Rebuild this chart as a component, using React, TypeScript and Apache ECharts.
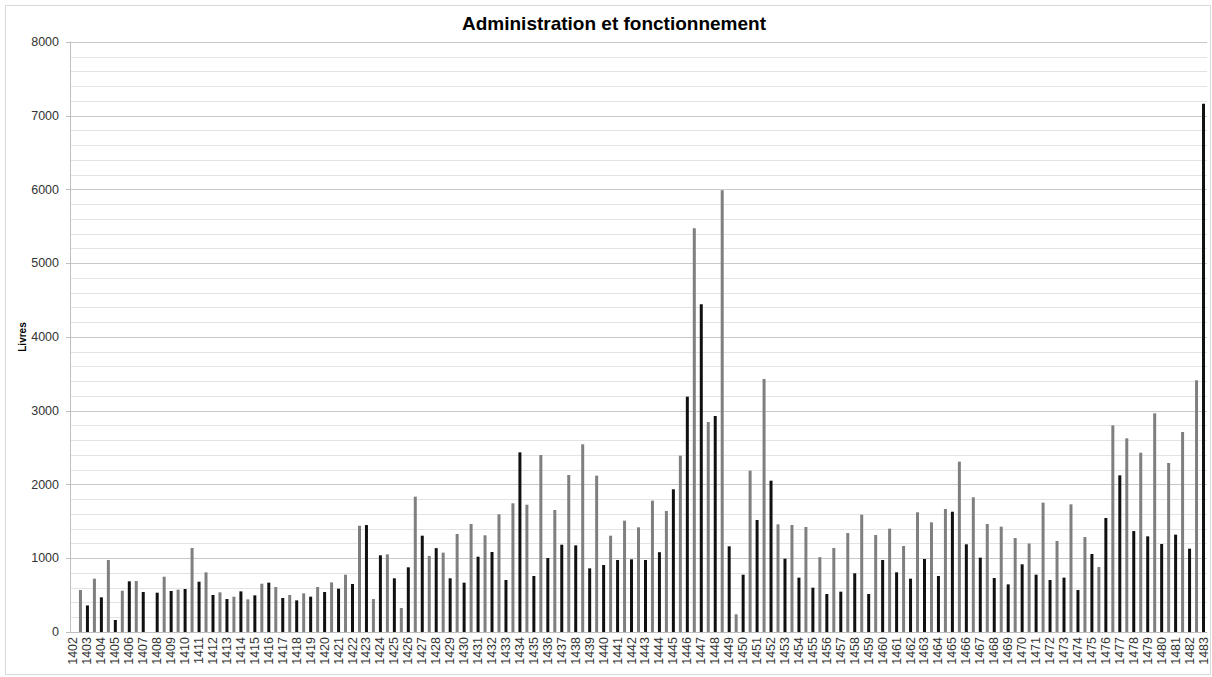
import React, { useEffect, useRef } from "react";
import * as echarts from "echarts";

// Years shown on the category axis (one black bar per year)
const years: string[] = [];
for (let y = 1402; y <= 1483; y++) years.push(String(y));

// Black bars: value at each year (1402 .. 1483)
const blackValues: (number | null)[] = [
  null, 360, 470, 163, 687, 542, 533, 556, 583, 682,
  502, 447, 551, 497, 669, 461, 429, 479, 542, 587,
  651, 1450, 1040, 728, 877, 1306, 1137, 728, 669, 1021,
  1085, 705, 2436, 759, 1003, 1184, 1175, 863, 908, 976,
  985, 976, 1082, 1935, 3191, 4443, 2929, 1162, 777, 1519,
  2052, 994, 737, 601, 515, 547, 796, 515, 976, 809,
  723, 990, 759, 1631, 1189, 1008, 732, 646, 918, 777,
  705, 737, 569, 1058, 1546, 2124, 1369, 1297, 1193, 1320,
  1130, 7164,
];

// Grey bars: value between consecutive years (after 1402 .. after 1482)
const greyValues: (number | null)[] = [
  569, 723, 976, 560, 691, null, 750, 574, 1139, 809,
  538, 479, 443, 655, 610, 502, 524, 610, 673, 777,
  1441, 447, 1053, 325, 1835, 1031, 1076, 1329, 1464, 1311,
  1596, 1745, 1726, 2400, 1654, 2129, 2545, 2120, 1306, 1510,
  1419, 1781, 1641, 2391, 5474, 2847, 5989, 240, 2188, 3431,
  1460, 1451, 1424, 1015, 1139, 1342, 1591, 1315, 1401, 1166,
  1623, 1487, 1668, 2310, 1826, 1464, 1428, 1275, 1200, 1754,
  1234, 1731, 1288, 881, 2802, 2626, 2431, 2965, 2292, 2712,
  3413,
];

const yTicks = [0, 1000, 2000, 3000, 4000, 5000, 6000, 7000, 8000];

export default function App() {
  const ref = useRef<HTMLDivElement>(null);

  useEffect(() => {
    document.body.style.margin = "0";
    if (!ref.current) return;
    const chart = echarts.init(ref.current, undefined, { renderer: "svg" });

    // interleave: year slot, between-years slot, year slot, ...
    const categories: string[] = [];
    const blackData: (number | null)[] = [];
    const greyData: (number | null)[] = [];
    years.forEach((yr, k) => {
      categories.push(yr);
      blackData.push(blackValues[k]);
      greyData.push(null);
      if (k < years.length - 1) {
        categories.push(yr + "-" + years[k + 1]);
        blackData.push(null);
        greyData.push(greyValues[k]);
      }
    });

    const font = "'Liberation Sans', Arial, sans-serif";

    chart.setOption({
      animation: false,
      backgroundColor: "#ffffff",
      title: {
        text: "Administration et fonctionnement",
        left: 609,
        top: 9,
        textAlign: "center",
        textStyle: { fontFamily: font, fontSize: 19, fontWeight: "bold", color: "#000" },
      },
      graphic: [
        {
          type: "rect",
          shape: { x: 5.5, y: 5.5, width: 1205, height: 669 },
          style: { fill: "none", stroke: "#d9d9d9", lineWidth: 1 },
          silent: true,
        },
      ],
      grid: { left: 70, right: 5, top: 42, bottom: 45, containLabel: false },
      xAxis: {
        type: "category",
        data: categories,
        boundaryGap: true,
        axisLine: { show: true, lineStyle: { color: "#bfbfbf", width: 1 } },
        axisTick: { show: false },
        axisLabel: {
          interval: (idx: number) => idx % 2 === 0,
          rotate: 90,
          margin: 5,
          fontFamily: font,
          fontSize: 12.5,
          color: "#333",
        },
        splitLine: { show: false },
      },
      yAxis: {
        type: "value",
        min: 0,
        max: yTicks[yTicks.length - 1],
        interval: 1000,
        name: "Livres",
        nameLocation: "middle",
        nameRotate: 90,
        nameGap: 43,
        nameMoveOverlap: false,
        nameTextStyle: { fontFamily: font, fontSize: 10, fontWeight: "bold", color: "#000" },
        axisLine: { show: true, lineStyle: { color: "#bfbfbf" } },
        axisTick: { show: true, length: 4, lineStyle: { color: "#bfbfbf" } },
        axisLabel: {
          fontFamily: font,
          fontSize: 12.5,
          color: "#333",
          margin: 11,
          formatter: (v: number) => String(v),
        },
        splitLine: { show: true, lineStyle: { color: "#c8c8c8", width: 1 } },
        minorTick: { show: false, splitNumber: 5 },
        minorSplitLine: { show: true, lineStyle: { color: "#e3e3e3", width: 1 } },
      },
      series: [
        {
          name: "gris",
          type: "bar",
          data: greyData,
          barWidth: 3,
          barGap: "-100%",
          itemStyle: { color: "#7f7f7f" },
        },
        {
          name: "noir",
          type: "bar",
          data: blackData,
          barWidth: 3,
          barGap: "-100%",
          itemStyle: { color: "#111111" },
        },
      ],
    });

    return () => chart.dispose();
  }, []);

  return (
    <div
      ref={ref}
      style={{ position: "absolute", left: 0, top: 0, width: 1212, height: 677 }}
    />
  );
}
